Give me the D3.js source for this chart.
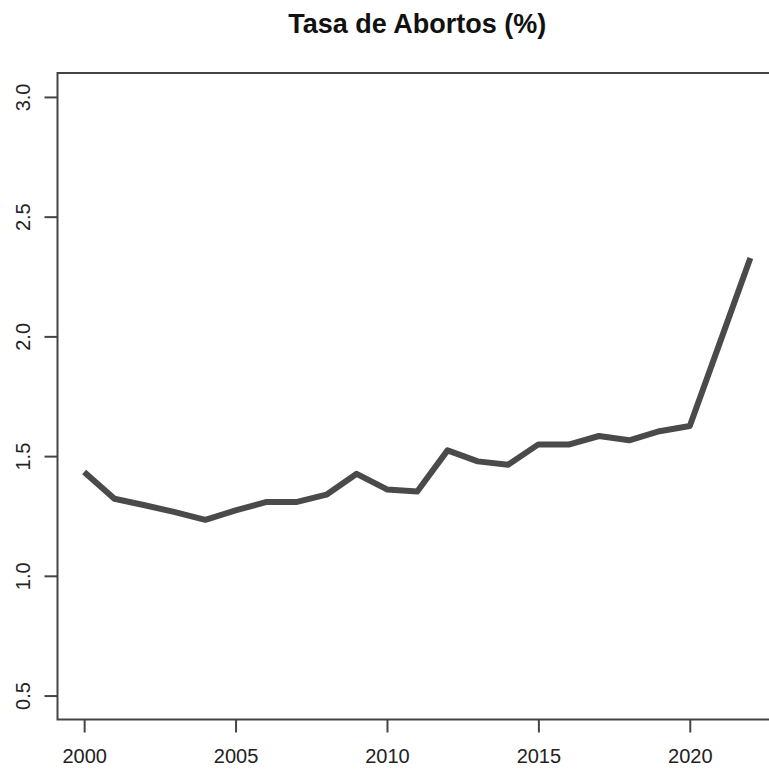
<!DOCTYPE html>
<html><head><meta charset="utf-8">
<script src="https://cdn.jsdelivr.net/npm/d3@7"></script>
<style>body{margin:0;background:#fff}svg{display:block}</style>
</head><body>
<script>
const years = [2000,2001,2002,2003,2004,2005,2006,2007,2008,2009,2010,2011,2012,2013,2014,2015,2016,2017,2018,2019,2020,2021,2022];
const rates = [1.434,1.322,1.295,1.266,1.234,1.273,1.308,1.308,1.339,1.426,1.361,1.352,1.524,1.478,1.464,1.549,1.548,1.584,1.566,1.604,1.626,1.976,2.327];
const xTicks = [2000,2005,2010,2015,2020];
const yTicks = [0.5,1.0,1.5,2.0,2.5,3.0];
const title = "Tasa de Abortos (%)";

const W = 769, H = 769;
const svg = d3.select("body").append("svg").attr("width", W).attr("height", H);
const font = "'Liberation Sans', Arial, Helvetica, sans-serif";

// R-style 4% extension
const x = d3.scaleLinear().domain([2000 - 0.88, 2022 + 0.88]).range([57.5, 777]);
const y = d3.scaleLinear().domain([0.4, 3.1]).range([719.5, 73]);

const axisCol = "#444";
// box
svg.append("rect").attr("x", x.range()[0]).attr("y", y.range()[1])
  .attr("width", x.range()[1] - x.range()[0]).attr("height", y.range()[0] - y.range()[1])
  .attr("fill", "none").attr("stroke", axisCol).attr("stroke-width", 2);

// x axis
const xa = svg.append("g").attr("transform", `translate(0,${y.range()[0]})`)
  .call(d3.axisBottom(x).tickValues(xTicks).tickFormat(d3.format("d")).tickSize(13).tickPadding(16));
xa.select(".domain").remove();
xa.selectAll("line").attr("stroke", axisCol).attr("stroke-width", 2);
xa.selectAll("text").attr("font-family", font).attr("font-size", 20).attr("fill", "#222");

// y axis
const ya = svg.append("g").attr("transform", `translate(${x.range()[0]},0)`)
  .call(d3.axisLeft(y).tickValues(yTicks).tickFormat(d3.format(".1f")).tickSize(13));
ya.select(".domain").remove();
ya.selectAll("line").attr("stroke", axisCol).attr("stroke-width", 2);
ya.selectAll("text").attr("font-family", font).attr("font-size", 20).attr("fill", "#222")
  .attr("x", null).attr("dy", null)
  .attr("text-anchor", "middle")
  .attr("transform", "translate(-28,0) rotate(-90)")
  .attr("dominant-baseline", "auto")
  .attr("y", 0);

// line
svg.append("path").datum(years.map((d, i) => [d, rates[i]]))
  .attr("fill", "none").attr("stroke", "#4a4a4d").attr("stroke-width", 6)
  .attr("stroke-linejoin", "round").attr("stroke-linecap", "butt")
  .attr("d", d3.line().x(d => x(d[0])).y(d => y(d[1])));

// title
svg.append("text").attr("x", (x.range()[0] + x.range()[1]) / 2).attr("y", 33)
  .attr("text-anchor", "middle").attr("font-family", font).attr("font-weight", "bold")
  .attr("font-size", 27).attr("fill", "#111").text(title);
</script>
</body></html>
